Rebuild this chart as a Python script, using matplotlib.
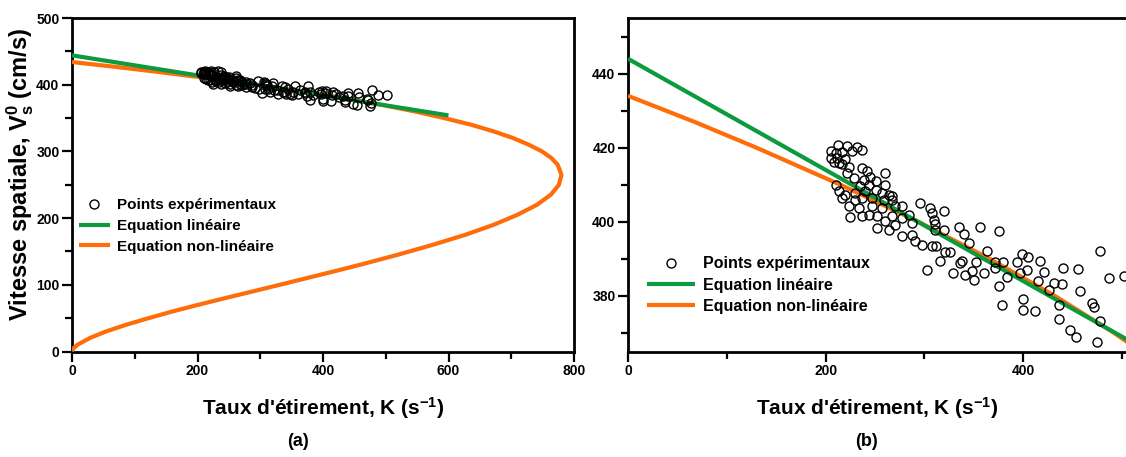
import numpy as np
import matplotlib
matplotlib.use("Agg")
import matplotlib.pyplot as plt
from matplotlib.ticker import MultipleLocator

plt.rcParams['font.family'] = ['Liberation Sans', 'DejaVu Sans']
plt.rcParams['font.weight'] = 'bold'
plt.rcParams['mathtext.fontset'] = 'custom'
plt.rcParams['mathtext.rm'] = 'Liberation Sans:bold'
plt.rcParams['mathtext.it'] = 'Liberation Sans:bold'
plt.rcParams['mathtext.bf'] = 'Liberation Sans:bold'

# ------------------------------------------------------------
#  data
# ------------------------------------------------------------
# experimental points : stretch rate K (1/s), spatial speed Vs0 (cm/s)
exp_rate = [212.7, 221.8, 231.9, 237.0, 205.0, 210.0, 216.8, 226.9, 205.0, 211.7,
            220.1, 208.3, 213.4, 216.8, 223.5, 237.0, 242.0, 260.6, 221.8, 245.4,
            228.5, 238.6, 250.5, 210.0, 235.3, 243.7, 260.6, 213.4, 220.1, 230.2,
            240.3, 250.5, 257.2, 263.9, 267.3, 216.8, 230.2, 237.0, 247.1, 258.9,
            267.3, 223.5, 233.6, 247.1, 257.2, 270.7, 277.4, 237.0, 243.7, 252.2,
            267.3, 277.4, 284.1, 260.6, 270.7, 287.6, 252.2, 263.9, 277.4, 287.6,
            290.9, 297.7, 296.0, 306.0, 307.8, 309.4, 311.1, 307.8, 302.7, 224.5,
            320.0,
            311.1, 319.5, 334.7, 355.9, 375.8, 339.7, 344.8, 312.1, 321.2, 326.3,
            315.5, 336.4, 338.1, 352.6, 363.4, 371.8, 379.6, 348.2, 329.0, 341.5,
            349.9, 360.0, 371.8, 383.6, 375.1, 393.7, 398.8, 404.4, 416.6, 403.8,
            420.6, 397.1, 414.6, 431.4, 425.7, 439.2, 439.8, 455.0, 457.0, 478.0,
            487.1, 501.5, 378.6, 399.8, 399.8, 412.2, 435.8, 435.8, 447.6, 453.7,
            469.6, 471.9, 477.2, 474.6]
exp_speed = [420.6, 420.4, 420.1, 419.4, 419.2, 418.5, 418.8, 419.0, 417.2, 417.2,
             417.0, 416.1, 415.8, 415.6, 414.7, 414.5, 413.6, 413.1, 413.1, 412.0,
             411.8, 411.3, 410.9, 410.0, 409.6, 410.0, 410.0, 408.2, 407.3, 407.7,
             408.2, 408.6, 407.7, 407.3, 406.9, 406.4, 405.9, 406.4, 406.4, 405.9,
             405.9, 404.2, 403.7, 404.2, 403.7, 404.2, 404.2, 401.5, 401.9, 401.5,
             401.5, 401.0, 401.9, 400.1, 399.2, 399.6, 398.3, 397.8, 396.1, 396.5,
             394.7, 393.8, 405.0, 403.7, 402.3, 400.5, 397.8, 393.4, 387.0, 401.2,
             403.0,
             399.4, 397.9, 398.7, 398.5, 397.5, 396.7, 394.3, 393.4, 391.9, 391.9,
             389.5, 388.9, 389.5, 389.1, 392.2, 389.2, 389.2, 386.8, 386.1, 385.6,
             384.3, 386.1, 387.4, 385.0, 382.6, 389.2, 391.2, 390.4, 389.5, 387.0,
             386.5, 386.2, 384.1, 383.4, 381.6, 383.2, 387.4, 387.2, 381.4, 392.1,
             384.9, 385.3, 377.5, 379.1, 376.2, 375.9, 377.5, 373.7, 370.8, 369.0,
             378.1, 376.9, 373.2, 367.6]

# linear equation (end points)
lin_rate = [0, 600]
lin_speed = [444, 354]

# non-linear equation (points along the curve)
nl_speed = [0, 2, 5, 10, 20, 30, 40, 50, 60, 70, 80, 100, 120, 130, 145, 160, 175,
            190, 205, 220, 235, 250, 265, 280, 290, 300, 310, 320, 330, 340, 350,
            360, 370, 380, 390, 400, 410, 420, 427, 434]
nl_rate = [0, 0.5, 2.5, 8.5, 28, 54, 86, 122, 160, 201, 244, 331, 417, 459, 519, 575,
           627, 672, 710, 741, 763, 776, 780, 774, 764, 749, 728, 703, 672, 636, 593,
           546, 492, 432, 366, 294, 215, 130, 67, 0]

legend_labels = ['Points expérimentaux', 'Equation linéaire', 'Equation non-linéaire']
xlabel_txt = r"Taux d'étirement, Κ (s$^\mathrm{-1}$)"
ylabel_txt = r'Vitesse spatiale, V$_\mathrm{s}^\mathrm{0}$ (cm/s)'

GREEN = '#0c9a3e'
ORANGE = '#ff6d0a'

W, H = 1126, 457
fig = plt.figure(figsize=(W / 100, H / 100), dpi=100)
axL = fig.add_axes([72 / W, 1 - 351.5 / H, 502 / W, 333.5 / H])
axR = fig.add_axes([628 / W, 1 - 351.5 / H, 498 / W, 333.5 / H])


def draw(ax):
    ax.plot(nl_rate, nl_speed, '-', color=ORANGE, lw=3.0, zorder=3,
            solid_capstyle='butt', label=legend_labels[2])
    ax.plot(lin_rate, lin_speed, '-', color=GREEN, lw=3.0, zorder=4,
            solid_capstyle='butt', label=legend_labels[1])
    ax.plot(exp_rate, exp_speed, 'o', ms=6.5, mfc='none', mec='black', mew=1.0,
            zorder=5, label=legend_labels[0])
    for s in ax.spines.values():
        s.set_linewidth(2.0)
    ax.tick_params(which='major', direction='out', length=7, width=1.6,
                   labelsize=10, pad=2)
    ax.tick_params(which='minor', direction='out', length=5, width=1.6)
    for lab in ax.get_xticklabels() + ax.get_yticklabels():
        lab.set_fontweight('bold')
    ax.set_xlabel(xlabel_txt, fontsize=15, fontweight='bold')
    ax.xaxis.set_label_coords(0.5, -0.17)
    ax.xaxis.label.set_va('center')
    h, l = ax.get_legend_handles_labels()
    return [h[2], h[1], h[0]], [l[2], l[1], l[0]]


# left panel : full view
hL, lL = draw(axL)
axL.set_xlim(0, 800)
axL.set_ylim(0, 500)
axL.xaxis.set_major_locator(MultipleLocator(200))
axL.xaxis.set_minor_locator(MultipleLocator(100))
axL.yaxis.set_major_locator(MultipleLocator(100))
axL.yaxis.set_minor_locator(MultipleLocator(50))
axL.set_ylabel(ylabel_txt, fontsize=17, fontweight='bold')
axL.yaxis.set_label_coords(-0.104, 0.53)
axL.yaxis.label.set_va('center')
axL.legend(hL, lL, loc='upper left', bbox_to_anchor=(0.014, 0.46), frameon=False,
           prop={'weight': 'bold', 'size': 11}, handlelength=2.0, handletextpad=0.5,
           labelspacing=0.45, borderpad=0, borderaxespad=0)

# right panel : zoom on the data
hR, lR = draw(axR)
axR.set_xlim(0, 504)
axR.set_ylim(365, 455)
axR.xaxis.set_major_locator(MultipleLocator(200))
axR.xaxis.set_minor_locator(MultipleLocator(100))
axR.yaxis.set_major_locator(MultipleLocator(20))
axR.yaxis.set_minor_locator(MultipleLocator(10))
axR.spines['right'].set_visible(False)
axR.legend(hR, lR, loc='upper left', bbox_to_anchor=(0.038, 0.286), frameon=False,
           prop={'weight': 'bold', 'size': 11.5}, handlelength=3.0, handletextpad=0.5,
           labelspacing=0.4, borderpad=0, borderaxespad=0)

fig.text(298 / W, 1 - 441 / H, '(a)', ha='center', va='center', fontsize=13,
         fontweight='bold')
fig.text(866 / W, 1 - 441 / H, '(b)', ha='center', va='center', fontsize=13,
         fontweight='bold')

fig.savefig('out.png', dpi=100)
